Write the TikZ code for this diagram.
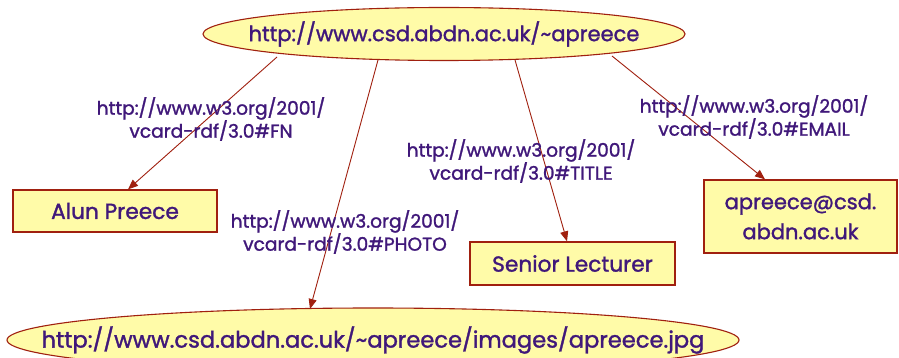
\documentclass[tikz,border=0pt]{standalone}
\usepackage{fontspec}
\setmainfont{Poppins}[FakeBold=1.4]
\usetikzlibrary{shapes.geometric,arrows.meta,calc}
\definecolor{uriink}{HTML}{40187A}
\definecolor{nodefill}{HTML}{FFFBA8}
\definecolor{nodeline}{HTML}{A0200F}
\begin{document}
\begin{tikzpicture}[x=1pt,y=-1pt,
  resource/.style={ellipse,draw=nodeline,fill=nodefill,line width=1.1pt,inner sep=0pt},
  uri/.style={text=uriink,inner sep=0pt,font=\fontsize{#1}{24}\selectfont},
  literal/.style={rectangle,draw=nodeline,fill=nodefill,line width=1.3pt,inner sep=0pt,
    text=uriink,font=\fontsize{21.7}{30}\selectfont,align=center},
  prop/.style={text=uriink,font=\fontsize{18.6}{23}\selectfont,align=center,inner sep=0pt},
  rel/.style={draw=nodeline,line width=0.9pt,-{Triangle[length=10pt,width=8pt]}}]
\useasboundingbox (0,0) rectangle (899,358);
\fill[white] (0,0) rectangle (899,358);

% subject and objects (ellipses sized independently of their text)
\node[resource,minimum width=482pt,minimum height=53pt,
  label={[uri=21]center:http://www.csd.abdn.ac.uk/\textasciitilde apreece}] (me) at (444,34) {};
\node[literal,minimum width=204pt,minimum height=42pt] (fn) at (115,211) {Alun Preece};
\node[literal,minimum width=205pt,minimum height=43pt] (title) at (572.5,263.5) {Senior Lecturer};
\node[literal,minimum width=193pt,minimum height=73pt,font=\fontsize{21}{30}\selectfont] (email) at (800.5,216.5)
  {apreece@csd.\\abdn.ac.uk};
\node[resource,minimum width=732pt,minimum height=64pt,
  label={[uri=22.6]center:http://www.csd.abdn.ac.uk/\textasciitilde apreece/images/apreece.jpg}] (photo) at (373,340) {};

% property arcs
\draw[rel] ($(me.center)+(-167,23)$) -- ($(fn.north)+(13,0)$);
\draw[rel] ($(me.center)+(-66,26)$) -- ($(photo.center)+(-63,-31)$);
\draw[rel] ($(me.center)+(71,26)$) -- ($(title.north)+(-5.5,0)$);
\draw[rel] ($(me.center)+(168,22)$) -- ($(email.north)+(-35.5,0)$);

% property labels
\node[prop] (lfn) at (211,119) {http://www.w3.org/2001/\\vcard-rdf/3.0\#FN};
\node[prop] (lphoto) at (345,232) {http://www.w3.org/2001/\\vcard-rdf/3.0\#PHOTO};
\node[prop] (ltitle) at (521,161) {http://www.w3.org/2001/\\vcard-rdf/3.0\#TITLE};
\node[prop] (lemail) at (754,117) {http://www.w3.org/2001/\\vcard-rdf/3.0\#EMAIL};
\end{tikzpicture}
\end{document}
